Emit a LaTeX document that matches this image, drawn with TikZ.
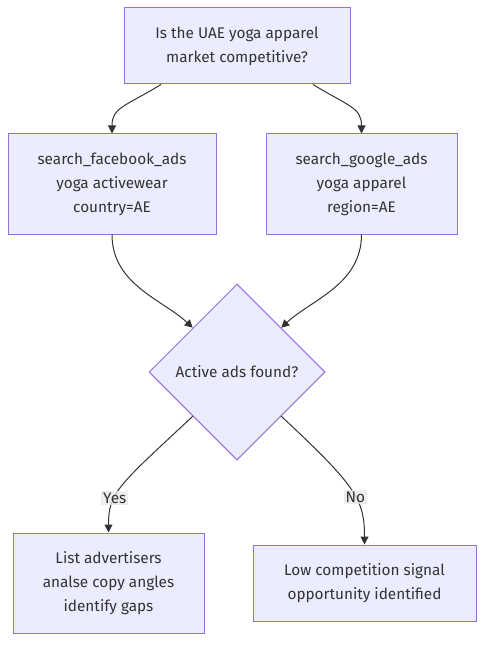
\documentclass[tikz,border=0pt]{standalone}
\usepackage{fontspec}
\setmainfont{Fira Sans}
\usetikzlibrary{shapes.geometric,arrows.meta}
\definecolor{boxfill}{HTML}{ECECFF}
\definecolor{boxline}{HTML}{9370DB}
\definecolor{edgeline}{HTML}{333333}
\definecolor{labelfill}{HTML}{E8E8E8}
\tikzset{
	stepbox/.style={rectangle, fill=boxfill, draw=boxline, line width=0.75pt, align=center, text=edgeline, font=\fontsize{11.5}{18}\selectfont, inner sep=0pt},
	choice/.style={diamond, aspect=1, fill=boxfill, draw=boxline, line width=0.75pt, text=edgeline, font=\fontsize{11.5}{18}\selectfont, inner sep=0pt, minimum width=132pt, minimum height=132pt},
	flow/.style={draw=edgeline, line width=0.75pt, -{Triangle[length=6pt,width=6pt]}},
	edgelabel/.style={fill=labelfill, fill opacity=0.8, text opacity=1, text=edgeline, font=\fontsize{11.5}{14}\selectfont, inner sep=1.5pt}
}
\begin{document}
\begin{tikzpicture}[x=0.75pt, y=-0.75pt]
					\useasboundingbox (0,0) rectangle (492,652);
					%Nodes
					\node[stepbox, minimum width=169.5pt, minimum height=57pt] (question) at (237,46) {Is the UAE yoga apparel\\market competitive?};
					\node[stepbox, minimum width=156pt, minimum height=75pt] (facebook) at (112,184) {search\_facebook\_ads\\yoga activewear\\country=AE};
					\node[stepbox, minimum width=143.25pt, minimum height=75pt] (google) at (361.5,184) {search\_google\_ads\\yoga apparel\\region=AE};
					\node[choice] (found) at (237,372) {Active ads found?};
					\node[stepbox, minimum width=143.25pt, minimum height=75pt] (yes) at (108.5,583) {List advertisers\\analse copy angles\\identify gaps};
					\node[stepbox, minimum width=167.25pt, minimum height=57pt] (no) at (364.5,583) {Low competition signal\\opportunity identified};

					%Lines
					\draw[flow] ([xshift=-57pt]question.south) .. controls +(-36,22) and +(0,-26) .. (facebook.north);
					\draw[flow] ([xshift=57pt]question.south) .. controls +(36,22) and +(0,-26) .. (google.north);
					\draw[flow] (facebook.south) .. controls +(0,50) and +(-30,-28) .. (found.north west);
					\draw[flow] (google.south) .. controls +(0,50) and +(30,-28) .. (found.north east);
					\draw[flow] (found.south west) .. controls +(-75,70) and +(0,-40) .. (yes.north)
						node[edgelabel, pos=0.64] (yeslabel) {Yes};
					\draw[flow] (found.south east) .. controls +(75,70) and +(0,-45) .. (no.north)
						node[edgelabel, pos=0.57] (nolabel) {No};

				\end{tikzpicture}
\end{document}
